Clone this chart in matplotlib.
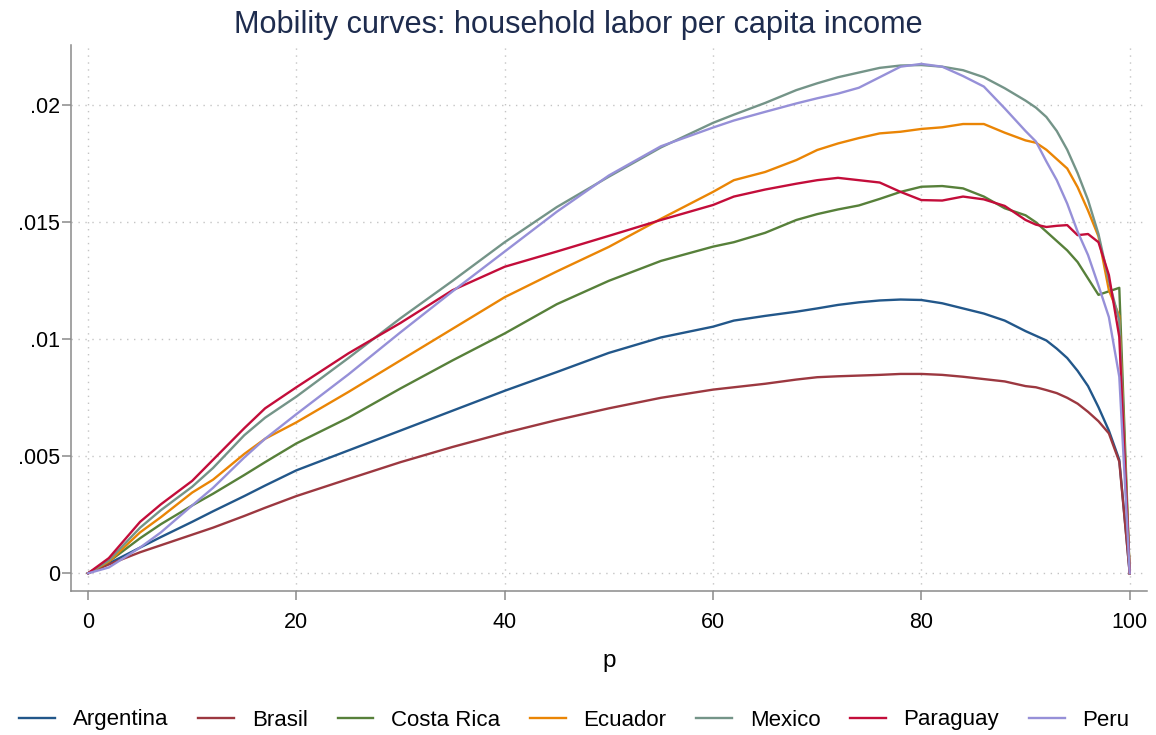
import matplotlib
matplotlib.use("Agg")
import matplotlib.pyplot as plt
import numpy as np

# ---- data (values in thousandths, scaled below) ----
p = [0, 2, 5, 7, 10, 12, 15, 17, 20, 25, 30, 35, 40, 45, 50, 55, 60, 62, 65, 68,
     70, 72, 74, 76, 78, 80, 82, 84, 86, 88, 90, 91, 92, 93, 94, 95, 96, 97, 98, 99, 100]

argentina = [0, 0.42, 1.1, 1.55, 2.2, 2.65, 3.3, 3.75, 4.4, 5.25, 6.1, 6.95, 7.8, 8.6, 9.42, 10.08,
             10.54, 10.8, 11.0, 11.18, 11.32, 11.47, 11.58, 11.66, 11.7, 11.68, 11.54, 11.32, 11.1,
             10.8, 10.35, 10.15, 9.95, 9.6, 9.2, 8.65, 8.0, 7.1, 6.1, 4.85, 0]
brasil = [0, 0.38, 0.9, 1.2, 1.65, 1.95, 2.45, 2.8, 3.3, 4.03, 4.75, 5.4, 6.0, 6.55, 7.05, 7.5,
          7.85, 7.95, 8.1, 8.28, 8.38, 8.42, 8.45, 8.48, 8.52, 8.52, 8.48, 8.4, 8.3,
          8.2, 8.0, 7.95, 7.83, 7.7, 7.5, 7.25, 6.9, 6.5, 5.98, 4.77, 0]
costa_rica = [0, 0.5, 1.5, 2.1, 2.9, 3.4, 4.2, 4.75, 5.55, 6.65, 7.9, 9.1, 10.25, 11.5, 12.5, 13.35,
              13.96, 14.15, 14.55, 15.1, 15.35, 15.55, 15.72, 16.0, 16.3, 16.52, 16.55, 16.45, 16.1,
              15.6, 15.3, 15.0, 14.6, 14.2, 13.8, 13.3, 12.6, 11.9, 12.05, 12.2, 0]
ecuador = [0, 0.5, 1.75, 2.4, 3.45, 4.0, 5.1, 5.75, 6.45, 7.75, 9.1, 10.45, 11.8, 12.9, 13.95, 15.15,
           16.3, 16.8, 17.15, 17.66, 18.09, 18.37, 18.6, 18.8, 18.87, 18.99, 19.06, 19.2, 19.2,
           18.83, 18.5, 18.4, 18.1, 17.7, 17.3, 16.5, 15.5, 14.4, 12.1, 11.0, 0]
mexico = [0, 0.55, 1.95, 2.7, 3.7, 4.5, 5.9, 6.65, 7.55, 9.2, 10.9, 12.5, 14.15, 15.65, 16.95, 18.2,
          19.25, 19.6, 20.1, 20.65, 20.94, 21.2, 21.4, 21.6, 21.7, 21.72, 21.65, 21.5, 21.2,
          20.73, 20.2, 19.9, 19.5, 18.9, 18.1, 17.1, 15.95, 14.5, 12.5, 10.8, 0]
paraguay = [0, 0.65, 2.2, 2.95, 3.95, 4.85, 6.2, 7.05, 7.95, 9.4, 10.7, 12.1, 13.1, 13.75, 14.42, 15.1,
            15.74, 16.1, 16.4, 16.65, 16.8, 16.9, 16.8, 16.7, 16.3, 15.95, 15.93, 16.1, 15.98,
            15.7, 15.1, 14.9, 14.8, 14.85, 14.88, 14.45, 14.5, 14.15, 12.75, 10.1, 0]
peru = [0, 0.25, 1.1, 1.75, 2.9, 3.65, 4.95, 5.75, 6.8, 8.5, 10.3, 12.05, 13.75, 15.45, 17.0, 18.25,
        19.05, 19.35, 19.72, 20.08, 20.3, 20.5, 20.75, 21.2, 21.65, 21.77, 21.65, 21.25, 20.8,
        19.87, 18.9, 18.45, 17.6, 16.8, 15.8, 14.6, 13.6, 12.3, 10.95, 8.4, 0]

names = ["Argentina", "Brasil", "Costa Rica", "Ecuador", "Mexico", "Paraguay", "Peru"]
series = [argentina, brasil, costa_rica, ecuador, mexico, paraguay, peru]
colors = ["#22578a", "#9c3840", "#57803a", "#ea8505", "#749488", "#c30d3a", "#9690d8"]

x_ticks = [0, 20, 40, 60, 80, 100]
y_ticks = [0, 0.005, 0.01, 0.015, 0.02]
y_labels = ["0", ".005", ".01", ".015", ".02"]

plt.rcParams['font.family'] = ['Liberation Sans', 'DejaVu Sans']

fig = plt.figure(figsize=(11.56, 7.35), dpi=100)
ax = fig.add_axes([71/1156, 1-591/735, (1147-71)/1156, (591-45)/735])

for name, vals, c in zip(names, series, colors):
    ax.plot(p, np.array(vals) / 1000.0, color=c, lw=1.7, label=name, solid_joinstyle='round')

ax.set_xlim(-1.632, 101.66)
ax.set_ylim(-0.000756, 0.022577)
ax.set_xticks(x_ticks)
ax.set_yticks(y_ticks)
ax.set_yticklabels(y_labels)

grid_kw = dict(color="#c4c4c4", lw=1.0, linestyle=(0, (1, 4)), zorder=0)
for yt in y_ticks:
    ax.axhline(yt, **grid_kw)
for xt in x_ticks:
    ax.axvline(xt, **grid_kw)

for s in ["top", "right"]:
    ax.spines[s].set_visible(False)
for s in ["left", "bottom"]:
    ax.spines[s].set_color("#8a8a8a")
    ax.spines[s].set_linewidth(1.1)

ax.tick_params(axis="both", direction="out", length=6.5, width=1.1, color="#8a8a8a",
               labelsize=15.5, labelcolor="#000000")
ax.tick_params(axis="x", pad=8.5)
ax.tick_params(axis="y", pad=1.5)

ax.set_xlabel("p", fontsize=17.5, labelpad=12)
fig.text(0.5, 1 - 25/735, "Mobility curves: household labor per capita income",
         ha="center", va="center", fontsize=22.1, color="#1e2c4e")

handles, labels = ax.get_legend_handles_labels()
fig.legend(handles, labels, loc="center", bbox_to_anchor=(0.497, 1 - 720/735), ncol=7,
           frameon=False, fontsize=16, handlelength=1.6, handletextpad=0.8,
           columnspacing=1.35)

fig.savefig("out.png", dpi=100, facecolor="white")
